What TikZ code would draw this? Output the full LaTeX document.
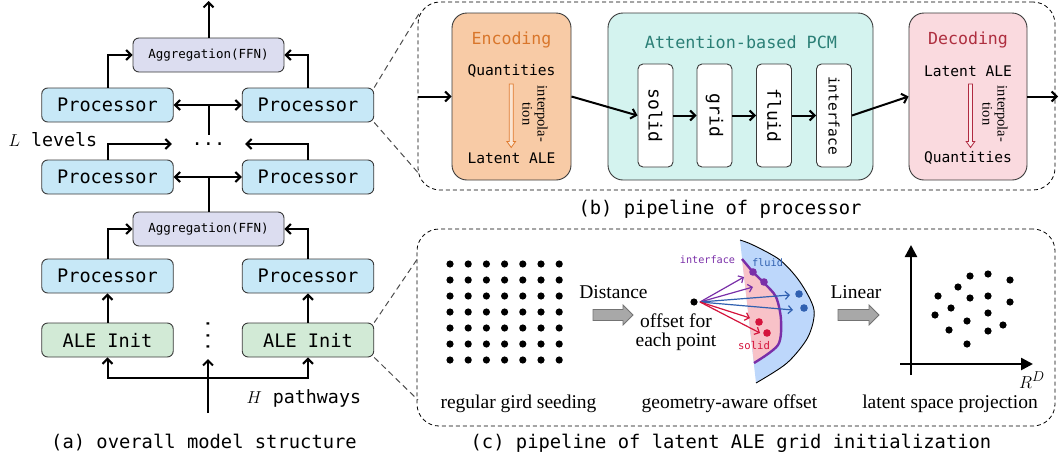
\documentclass[tikz,border=0pt]{standalone}
\usepackage{fontspec}
\setmonofont{DejaVu Sans Mono}
\newfontfamily\serifx{Liberation Serif}
\usetikzlibrary{arrows.meta,calc}
\definecolor{procfill}{HTML}{C7E8F7}
\definecolor{aggfill}{HTML}{DCDDF0}
\definecolor{alefill}{HTML}{D2EAD6}
\definecolor{encfill}{HTML}{F8CBA6}
\definecolor{attfill}{HTML}{D4F3EF}
\definecolor{decfill}{HTML}{FADADF}
\definecolor{enctext}{HTML}{D9762B}
\definecolor{atttext}{HTML}{2B7F76}
\definecolor{dectext}{HTML}{AE2E3F}
\definecolor{boxline}{HTML}{3A3A3A}
\definecolor{cpurple}{HTML}{7A2FA8}
\definecolor{cblue}{HTML}{3060B0}
\definecolor{cred}{HTML}{D4143C}
\definecolor{regblue}{HTML}{BDD7FB}
\definecolor{regpink}{HTML}{F8C2C8}
\definecolor{arrgray}{HTML}{A8A8A8}
\definecolor{encarrow}{HTML}{E07B2F}
\definecolor{decarrow}{HTML}{B02A40}
\begin{document}
\begin{tikzpicture}[x=1pt,y=-1pt,
  box/.style={draw=boxline,line width=0.9pt,rounded corners=6pt,inner sep=0pt},
  proc/.style={box,fill=procfill,minimum width=131.5pt,minimum height=34pt,font=\ttfamily\fontsize{18.6}{20}\selectfont},
  agg/.style={box,fill=aggfill,minimum width=151pt,minimum height=34pt,font=\ttfamily\fontsize{12.5}{14}\selectfont},
  ale/.style={box,fill=alefill,minimum width=131.5pt,minimum height=34pt,font=\ttfamily\fontsize{18.6}{20}\selectfont},
  big/.style={draw=boxline,line width=0.9pt,rounded corners=15pt,minimum height=167pt,inner sep=0pt},
  sub/.style={draw=boxline,fill=white,line width=0.9pt,rounded corners=5pt,minimum width=35pt,minimum height=103pt,inner sep=0pt},
  arr/.style={line width=2pt,-{Straight Barb[length=5pt,width=10pt]}},
  darr/.style={line width=2pt,{Straight Barb[length=5pt,width=10pt]}-{Straight Barb[length=5pt,width=10pt]}},
  carr/.style={line width=1.2pt,-{Straight Barb[length=4pt,width=8pt]}},
  dashbox/.style={draw,dash pattern=on 4pt off 3pt,line width=0.8pt,rounded corners=22pt,inner sep=0pt},
  dashline/.style={draw=black!70,dash pattern=on 6pt off 4pt,line width=1pt},
  mono/.style={font=\ttfamily\fontsize{#1}{#1}\selectfont},
  serif/.style={font=\serifx\fontsize{19.5}{21}\selectfont},
  gblock/.style={fill=arrgray,draw=black!55,line width=0.8pt},
  dot/.style={circle,fill=black,inner sep=0pt,minimum size=7.2pt},
  cdot/.style={circle,inner sep=0pt,minimum size=7.6pt},
  rot/.style={rotate=-90,align=center,inner sep=0pt,font=\serifx\fontsize{14.5}{15}\selectfont},
]
\useasboundingbox (0,0) rectangle (1060,461);

% ---------------- (a) ----------------
\node[agg] (agg1) at (208.5,55) {Aggregation(FFN)};
\node[proc] (p1l) at (107.5,105) {Processor};
\node[proc] (p1r) at (308,105) {Processor};
\node[inner sep=0pt,minimum width=73pt,minimum height=18pt,mono=18.6] (dots) at (208.5,144) {...};
\coordinate (topout) at (208.5,1);
\draw[arr] (agg1.north) -- (topout);
\draw[arr] (p1l.north) |- (agg1.west);
\draw[arr] (p1r.north) |- (agg1.east);
\draw[darr] (p1l.east) -- (p1r.west);
\draw[line width=2pt] (dots.north) -- (dots.north |- p1l.east);

\node[proc] (p2l) at (107.5,177) {Processor};
\node[proc] (p2r) at (308,177) {Processor};
\draw[arr] (p2l.north) |- (dots.west);
\draw[arr] (p2r.north) |- (dots.east);
\draw[darr] (p2l.east) -- (p2r.west);

\node[agg] (agg0) at (208.5,229) {Aggregation(FFN)};
\draw[line width=2pt] (agg0.north) -- (agg0.north |- p2l.east);
\node[proc] (p0l) at (107.5,276) {Processor};
\node[proc] (p0r) at (308,276) {Processor};
\draw[arr] (p0l.north) |- (agg0.west);
\draw[arr] (p0r.north) |- (agg0.east);

\node[ale] (al) at (107.5,340) {ALE Init};
\node[ale] (ar) at (308,340) {ALE Init};
\draw[arr] (al.north) -- (p0l.south);
\draw[arr] (ar.north) -- (p0r.south);
\node[rotate=90,inner sep=0pt,mono=18.6] (vd) at (208,335.5) {...};

\coordinate (inA) at (208,413);
\coordinate (split) at (208,378);
\coordinate (midtip) at (208,359);
\draw[arr] (inA) -- (midtip);
\draw[arr] (split) -| (al.south);
\draw[arr] (split) -| (ar.south);

\node[anchor=west,mono=18.3] (lev) at (5,140) {$L$ levels};
\node[anchor=west,mono=18.3] (hp) at (243,398) {$H$ pathways};
\node[mono=18.8] (capa) at (204,443) {(a) overall model structure};

% ---------------- (b) ----------------
\node[dashbox,minimum width=637pt,minimum height=188pt] (pb) at (736.5,96) {};
\coordinate (bUL) at (420,12);
\coordinate (bLL) at (420,175);
\draw[dashline] (p1r.north east) -- (bUL);
\draw[dashline] (p1r.south east) -- (bLL);

\node[big,fill=encfill,minimum width=119pt] (enc) at (511.5,96.5) {};
\node[big,fill=attfill,minimum width=265pt] (att) at (740.5,96.5) {};
\node[big,fill=decfill,minimum width=118pt] (dec) at (968,96.5) {};

\node[mono=16.6,text=enctext] (enct) at (511.5,40) {Encoding};
\node[mono=14.6] (encq) at (511.5,71) {Quantities};
\node[mono=14.6] (encl) at (511.5,158) {Latent ALE};
\node[rot] (enci) at (535,114) {interpola-\\tion};
\draw[draw=encarrow,fill=encfill!50!white,line width=0.8pt] (509.2,84) -- (513.2,84) -- (513.2,141.5) -- (515.5,141.5) -- (511.2,147.5) -- (506.9,141.5) -- (509.2,141.5) -- cycle;

\node[mono=16.8,text=atttext] (attt) at (741,42) {Attention-based PCM};
\node[sub] (solid) at (655.5,115.5) {};
\node[sub] (grid) at (714.5,115.5) {};
\node[sub] (fluid) at (774,115.5) {};
\node[sub] (iface) at (834,115.5) {};
\node[rotate=-90,mono=18] (solidt) at (solid) {solid};
\node[rotate=-90,mono=18] (gridt) at (grid) {grid};
\node[rotate=-90,mono=18] (fluidt) at (fluid) {fluid};
\node[rotate=-90,mono=14.5] (ifacet) at (iface) {interface};

\node[mono=16.6,text=dectext] (dect) at (968,40) {Decoding};
\node[mono=14.6] (decl) at (968,71) {Latent ALE};
\node[mono=14.6] (decq) at (968,158) {Quantities};
\node[rot] (deci) at (995,114) {interpola-\\tion};
\draw[draw=decarrow,fill=decfill!60!white,line width=0.8pt] (968.5,84) -- (972.5,84) -- (972.5,141.5) -- (974.8,141.5) -- (970.5,147.5) -- (966.2,141.5) -- (968.5,141.5) -- cycle;

\coordinate (inb) at (418,96.5);
\coordinate (outb) at (1058,96.5);
\draw[arr] (inb) -- (enc.west);
\draw[arr] (enc.east) -- (solid.west);
\draw[arr] (solid.east) -- (grid.west);
\draw[arr] (grid.east) -- (fluid.west);
\draw[arr] (fluid.east) -- (iface.west);
\draw[arr] (iface.east) -- (dec.west);
\draw[arr] (dec.east) -- (outb);

\node[mono=18.8] (capb) at (720,209) {(b) pipeline of processor};

% ---------------- (c) ----------------
\node[dashbox,minimum width=638pt,minimum height=197pt] (pc) at (736,327.5) {};
\coordinate (cUL) at (418,258);
\coordinate (cLL) at (418,400);
\draw[dashline] (ar.north east) -- (cUL);
\draw[dashline] (ar.south east) -- (cLL);

\foreach \i in {0,...,6} \foreach \j in {0,...,6} \fill (450+\i*18.2,264+\j*16) circle (3.6);
\node[serif] (seed) at (518.5,404) {regular gird seeding};

\draw[gblock] (593,309.5) -- (623,309.5) -- (623,305) -- (633,315) -- (623,325) -- (623,320.5) -- (593,320.5) -- cycle;
\node[serif] (dist) at (613.5,292) {Distance};
\node[dot] (pt) at (694,302) {};
\node[align=center,font=\serifx\fontsize{19.5}{19}\selectfont] (off) at (676,332) {offset for\\each point};

\fill[regblue] plot[smooth] coordinates {(740,240) (753,245) (780,260) (800,282) (814,310) (808,337) (787,363) (756,383)} -- cycle;
\draw[line width=0.9pt] plot[smooth] coordinates {(740,240) (753,245) (780,260) (800,282) (814,310) (808,337) (787,363) (756,383)};
\fill[regpink] plot[smooth] coordinates {(742,259) (753,272) (764,283) (776,297) (781,320) (778,345) (754,363)} -- cycle;
\draw[cpurple,line width=2.4pt] plot[smooth] coordinates {(742,259) (753,272) (764,283) (776,297) (781,320) (778,345) (754,363)};

\node[cdot,fill=cpurple] (pu1) at (753,272) {};
\node[cdot,fill=cpurple] (pu2) at (764,282) {};
\node[cdot,fill=cblue] (bl1) at (799,294) {};
\node[cdot,fill=cblue] (bl2) at (804,308) {};
\node[cdot,fill=cred] (rd1) at (759,322) {};
\node[cdot,fill=cred] (rd2) at (767,333) {};

\coordinate (src) at (700,302);
\coordinate (tp1) at (744,277);
\coordinate (tp2) at (753,287);
\coordinate (tb1) at (790,295);
\coordinate (tb2) at (793,310);
\coordinate (tr1) at (750,318);
\coordinate (tr2) at (760,333);
\draw[carr,cpurple] (src) -- (tp1);
\draw[carr,cpurple] (src) -- (tp2);
\draw[carr,cblue] (src) -- (tb1);
\draw[carr,cblue] (src) -- (tb2);
\draw[carr,cred] (src) -- (tr1);
\draw[carr,cred] (src) -- (tr2);

\node[mono=10.2,text=cpurple] (lint) at (707.5,260) {interface};
\node[mono=10.3,text=cblue] (lflu) at (767.5,263) {fluid};
\node[mono=10.6,text=cred] (lsol) at (754,346) {solid};
\node[serif] (geo) at (729.5,404) {geometry-aware offset};

\draw[gblock] (838,309.5) -- (869,309.5) -- (869,305) -- (879,315) -- (869,325) -- (869,320.5) -- (838,320.5) -- cycle;
\node[serif] (lin) at (856,292) {Linear};

\coordinate (axv0) at (911,375);
\coordinate (axvt) at (911,245);
\coordinate (axh0) at (900,364);
\coordinate (axht) at (1033,364);
\draw[line width=2.5pt,-{Triangle[length=12pt,width=12pt]}] (axv0) -- (axvt);
\draw[line width=2.5pt,-{Triangle[length=12pt,width=12pt]}] (axh0) -- (axht);
\node[font=\fontsize{19}{20}\selectfont] (rdlab) at (1032,380) {$R^D$};

\foreach \p in {(970,276),(988,274),(1010,280),(958,287),(938,296),(970,298),(988,296),(1010,302),(951,308),(935,315),(988,313),(967,321),(1003,325),(949,330),(988,331),(967,344)} \fill \p circle (3.6);
\node[serif] (lat) at (950,404) {latent space projection};
\node[mono=18.8] (capc) at (731,443.5) {(c) pipeline of latent ALE grid initialization};
\end{tikzpicture}
\end{document}
